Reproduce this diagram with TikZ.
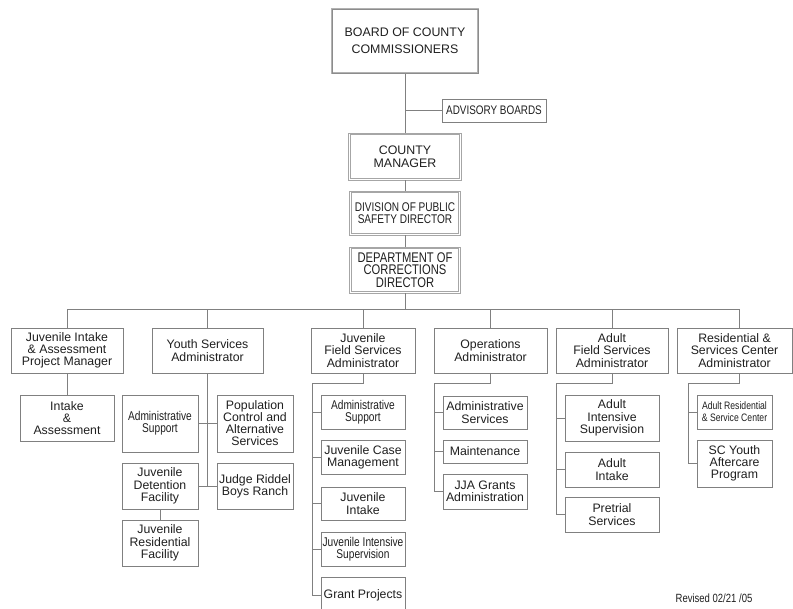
\documentclass[tikz,border=0pt]{standalone}
\usepackage{fontspec}
\setmainfont{Liberation Sans}
\newfontfamily\narf[FakeStretch=0.8]{Liberation Sans}
\newcommand\fsz[2]{\fontsize{#1}{#2}\selectfont}
\definecolor{lc}{gray}{0.5}
\definecolor{tc}{gray}{0.12}
\newcommand\innerframe[1]{\draw[draw=gray!70, line width=0.9pt] ([shift={(2.4pt,2.4pt)}]#1.south west) rectangle ([shift={(-2.4pt,-2.4pt)}]#1.north east);}
\begin{document}
\begin{tikzpicture}[x=1pt,y=-1pt,
  box/.style={draw=lc, line width=0.8pt, align=center, inner sep=0pt, text=tc, font=\fsz{12.3}{12.3}},
  topbox/.style={box, draw=gray!70, line width=0.9pt},
  narbox/.style={box, font=\narf\fsz{12.7}{12.3}},
  conn/.style={draw=lc, line width=0.8pt}]
\useasboundingbox (0,0) rectangle (793,609);

% top chain
\node[box, draw=gray!60, line width=2.6pt, minimum width=146pt, minimum height=64pt, font=\fsz{12.4}{17}] (board) at (405,41) {BOARD OF COUNTY\\COMMISSIONERS};
\draw[draw=gray!90, line width=0.6pt] ([shift={(1.4pt,1.4pt)}]board.south west) rectangle ([shift={(-1.4pt,-1.4pt)}]board.north east);
\node[box, minimum width=104pt, minimum height=23pt, font=\narf\fsz{12.4}{12}] (adv) at (494,110.5) {ADVISORY BOARDS};
\node[topbox, minimum width=113pt, minimum height=47pt, font=\fsz{12.4}{13}] (cm) at (405,156.5) {COUNTY\\MANAGER};
\node[topbox, minimum width=111pt, minimum height=44pt, font=\narf\fsz{12.6}{11.7}] (div) at (405,213) {DIVISION OF PUBLIC\\SAFETY DIRECTOR};
\node[topbox, minimum width=111pt, minimum height=46pt, font=\narf\fsz{14}{12.8}] (dept) at (405,270) {DEPARTMENT OF\\CORRECTIONS\\DIRECTOR};
\innerframe{cm}
\innerframe{div}
\innerframe{dept}

\draw[conn] (board.south) -- (cm.north);
\coordinate (advj) at (405,110.5);
\draw[conn] (advj) -- (adv.west);
\draw[conn] (cm.south) -- (div.north);
\draw[conn] (div.south) -- (dept.north);
\coordinate (busL) at (67,309);
\coordinate (busR) at (739,309);
\draw[conn] (dept.south) -- (dept.south |- busL);
\draw[conn] (busL) -- (busR);

% level 2
\node[box, minimum width=112pt, minimum height=45pt] (jia) at (67,350.5) {Juvenile Intake\\\& Assessment\\Project Manager};
\node[box, minimum width=111pt, minimum height=45pt] (ys) at (207.5,350.5) {Youth Services\\Administrator};
\node[box, minimum width=104pt, minimum height=45pt] (jfs) at (363,350.5) {Juvenile\\Field Services\\Administrator};
\node[box, minimum width=113pt, minimum height=45pt] (ops) at (490.5,350.5) {Operations\\Administrator};
\node[box, minimum width=112pt, minimum height=45pt] (afs) at (612,350.5) {Adult\\Field Services\\Administrator};
\node[box, minimum width=115pt, minimum height=45pt] (res) at (734.5,350.5) {Residential \&\\Services Center\\Administrator};

\foreach \n in {jia,ys,jfs,ops,afs}{\draw[conn] (\n.north) -- (\n.north |- busL);}
\draw[conn] ([xshift=4.5pt]res.north) -- ([xshift=4.5pt]res.north |- busR);

% column 1
\node[box, minimum width=94pt, minimum height=46pt] (ia) at (67,418) {Intake\\\&\\Assessment};
\draw[conn] (jia.south) -- (ia.north);

% column 2
\node[narbox, minimum width=76pt, minimum height=57pt] (as1) at (160,423.5) {Administrative\\Support};
\node[box, minimum width=76pt, minimum height=57pt, font=\fsz{12.3}{12}] (pc) at (255,423.5) {Population\\Control and\\Alternative\\Services};
\node[box, minimum width=76pt, minimum height=46pt] (jdf) at (160,486) {Juvenile\\Detention\\Facility};
\node[box, minimum width=76pt, minimum height=46pt] (jr) at (255,486) {Judge Riddel\\Boys Ranch};
\node[box, minimum width=76pt, minimum height=46pt] (jrf) at (160,543) {Juvenile\\Residential\\Facility};
\draw[conn] (ys.south) -- (ys.south |- jdf.east);
\draw[conn] (as1.east) -- (pc.west);
\draw[conn] (jdf.east) -- (jr.west);
\draw[conn] (jdf.south) -- (jrf.north);

% column 3
\node[narbox, minimum width=84pt, minimum height=34pt] (c3a) at (363,412) {Administrative\\Support};
\node[box, minimum width=84pt, minimum height=34pt] (c3b) at (363,457) {Juvenile Case\\Management};
\node[box, minimum width=84pt, minimum height=33pt] (c3c) at (363,503.5) {Juvenile\\Intake};
\node[narbox, minimum width=84pt, minimum height=34pt] (c3d) at (363,549) {Juvenile Intensive\\Supervision};
\node[box, minimum width=84pt, minimum height=36pt] (c3e) at (363,595) {Grant Projects};
\coordinate (j3) at (312,383);
\draw[conn] (jfs.south) -- (jfs.south |- j3) -- (j3) -- (j3 |- c3e.west) -- (c3e.west);
\foreach \n in {c3a,c3b,c3c,c3d}{\draw[conn] (j3 |- \n.west) -- (\n.west);}

% column 4
\node[box, minimum width=84pt, minimum height=33pt] (c4a) at (485,412.5) {Administrative\\Services};
\node[box, minimum width=84pt, minimum height=23pt] (c4b) at (485,451.5) {Maintenance};
\node[box, minimum width=84pt, minimum height=35pt] (c4c) at (485,491.5) {JJA Grants\\Administration};
\coordinate (j4) at (434,383);
\draw[conn] (ops.south) -- (ops.south |- j4) -- (j4) -- (j4 |- c4c.west) -- (c4c.west);
\foreach \n in {c4a,c4b}{\draw[conn] (j4 |- \n.west) -- (\n.west);}

% column 5
\node[box, minimum width=94pt, minimum height=46pt] (c5a) at (612,418) {Adult\\Intensive\\Supervision};
\node[box, minimum width=94pt, minimum height=35pt] (c5b) at (612,469.5) {Adult\\Intake};
\node[box, minimum width=94pt, minimum height=35pt] (c5c) at (612,514.5) {Pretrial\\Services};
\coordinate (j5) at (556,383);
\draw[conn] (afs.south) -- (afs.south |- j5) -- (j5) -- (j5 |- c5c.west) -- (c5c.west);
\foreach \n in {c5a,c5b}{\draw[conn] (j5 |- \n.west) -- (\n.west);}

% column 6
\node[box, minimum width=75pt, minimum height=34pt, font=\narf\fsz{10.8}{12}] (c6a) at (734.5,412) {Adult Residential\\\& Service Center};
\node[box, minimum width=75pt, minimum height=47pt] (c6b) at (734.5,463.5) {SC Youth\\Aftercare\\Program};
\coordinate (j6) at (688,383);
\draw[conn] ([xshift=4.5pt]res.south) -- ([xshift=4.5pt]res.south |- j6) -- (j6) -- (j6 |- c6b.west) -- (c6b.west);
\draw[conn] (j6 |- c6a.west) -- (c6a.west);

\node[text=tc, font=\narf\fsz{11.9}{12}, inner sep=0pt] (rev) at (714,598) {Revised 02/21 /05};
\end{tikzpicture}
\end{document}
